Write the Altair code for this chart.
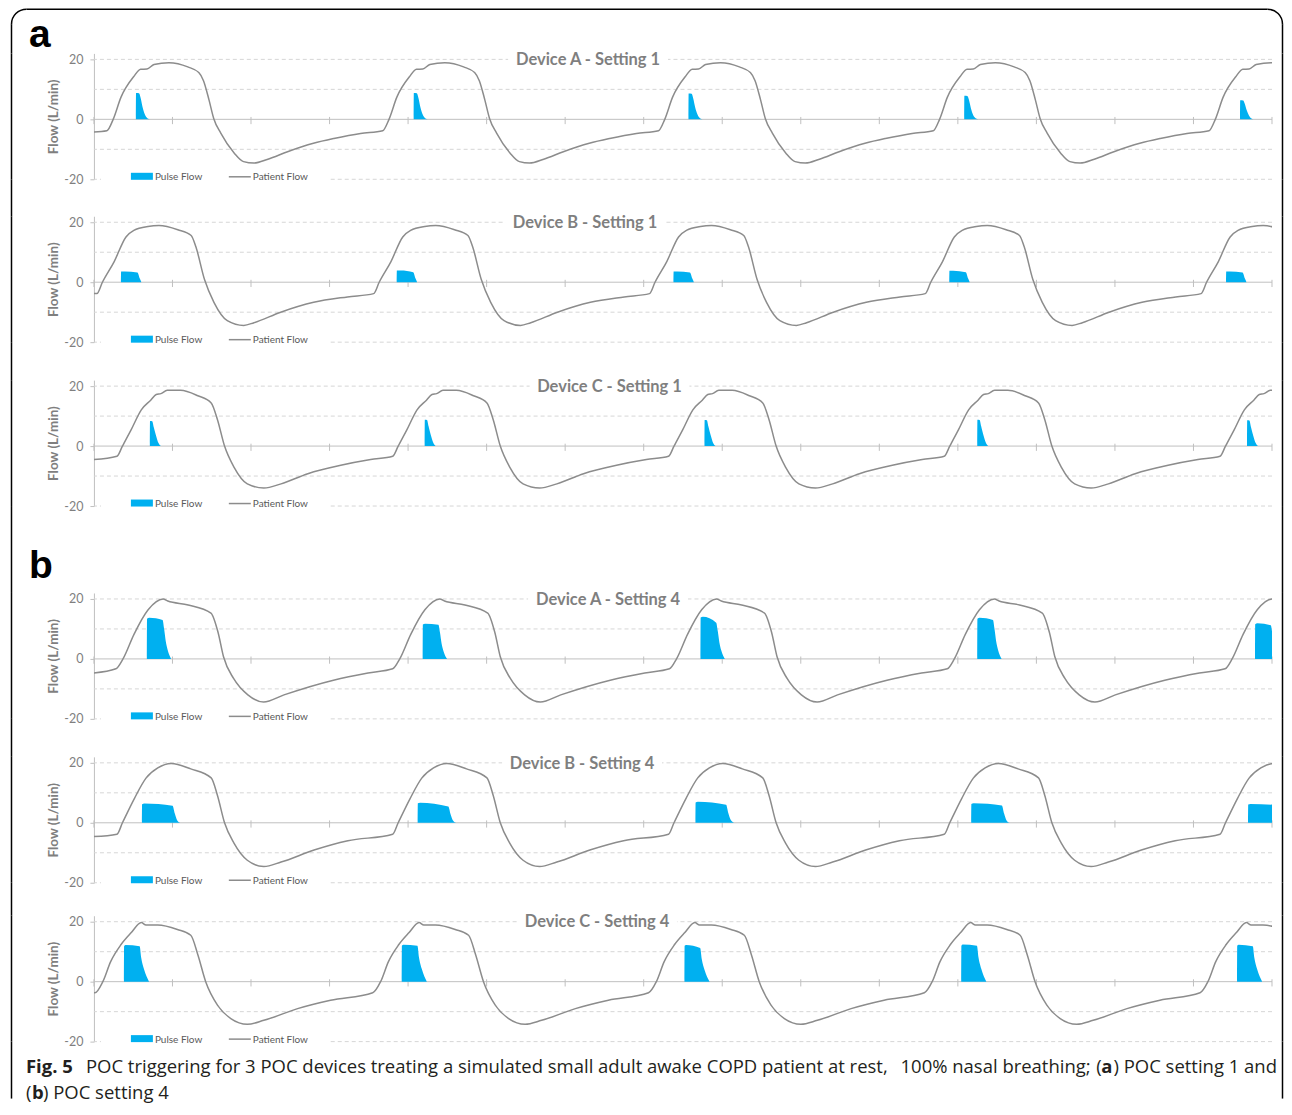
import altair as alt
import pandas as pd

# ---------------- data ----------------
TICKS_S = list(range(0, 16))          # x tick positions (s)
GRID_LEVELS = [-20, -10, 10, 20]      # dashed gridlines (L/min)

TITLES = ["Device A - Setting 1", "Device B - Setting 1", "Device C - Setting 1",
          "Device A - Setting 4", "Device B - Setting 4", "Device C - Setting 4"]

# Patient flow: value at t=0, breath onsets (s), and breath shape (s after onset, L/min)
A1_START = -4.2
A1_ON = [0.165, 3.677, 7.188, 10.687, 14.198]
A1_DT = [0.00, 0.08, 0.18, 0.34, 0.43, 0.51, 0.60, 0.79, 1.03, 1.17, 1.23, 1.30, 1.36, 1.45, 1.62, 1.74, 1.87, 2.05, 2.30, 2.63, 2.89, 3.23]
A1_V = [-3.8, 0.0, 7.4, 14.2, 16.7, 16.8, 18.3, 18.9, 17.5, 15.6, 12.9, 6.5, 0.3, -4.6, -11.2, -14.1, -14.6, -13.3, -10.8, -8.0, -6.4, -4.7]

A2_START = -3.8
A2_ON = [0.038, 3.562, 7.074, 10.585, 14.097]
A2_DT = [0.00, 0.07, 0.22, 0.37, 0.47, 0.65, 0.79, 1.03, 1.20, 1.26, 1.37, 1.49, 1.66, 1.87, 2.00, 2.34, 2.76, 3.19]
A2_V = [-3.8, 0.0, 6.9, 15.1, 17.3, 18.6, 18.9, 17.5, 15.6, 11.8, 0.9, -6.7, -12.8, -14.4, -13.5, -10.0, -6.7, -4.9]

A3_START = -4.5
A3_ON = [0.293, 3.804, 7.316, 10.827, 14.338]
A3_DT = [0.00, 0.07, 0.18, 0.31, 0.43, 0.50, 0.56, 0.64, 0.81, 1.03, 1.20, 1.28, 1.37, 1.49, 1.66, 1.87, 2.09, 2.43, 2.85, 3.23]
A3_V = [-3.4, 0.0, 5.4, 12.1, 15.3, 17.2, 17.5, 18.6, 18.6, 16.8, 14.4, 8.8, 0.0, -7.0, -12.6, -14.0, -12.6, -9.2, -6.4, -4.5]

B1_START = -4.7
B1_ON = [0.280, 3.804, 7.328, 10.865, 14.402]
B1_DT = [0.00, 0.09, 0.23, 0.41, 0.60, 0.66, 0.92, 1.21, 1.30, 1.37, 1.50, 1.68, 1.88, 2.14, 2.77, 3.21]
B1_V = [-3.3, 0.0, 8.2, 16.4, 20.0, 19.3, 18.0, 15.3, 8.9, 0.7, -6.6, -12.0, -14.4, -12.0, -7.1, -4.7]

B2_START = -4.6
B2_ON = [0.293, 3.804, 7.316, 10.827, 14.338]
B2_DT = [0.00, 0.07, 0.22, 0.37, 0.52, 0.69, 0.94, 1.20, 1.28, 1.37, 1.49, 1.66, 1.87, 2.09, 2.51, 2.94]
B2_V = [-3.8, 0.0, 8.0, 14.9, 18.3, 19.8, 18.0, 15.0, 9.1, 0.0, -6.8, -12.5, -14.6, -13.1, -9.1, -6.0]

B3_START = -3.7
B3_ON = [0.013, 3.550, 7.061, 10.573, 14.084]
B3_DT = [0.00, 0.10, 0.20, 0.33, 0.46, 0.59, 0.65, 0.80, 1.05, 1.22, 1.31, 1.41, 1.56, 1.73, 1.94, 2.15, 2.58, 3.00]
B3_V = [-3.7, 0.0, 6.7, 12.3, 16.3, 19.7, 18.9, 18.9, 17.4, 15.5, 9.0, 0.0, -7.8, -12.3, -14.2, -12.9, -9.0, -6.2]

# Pulse flow: pulse start times (s), time offsets within a pulse (s), values of each pulse (L/min)
A1_PT = [0.534, 4.071, 7.570, 11.081, 14.593]
A1_PDT = [0.0, 0.002, 0.04, 0.06, 0.085, 0.115, 0.15, 0.18]
A1_PV = [[0, 8.8, 8.7, 7.2, 4.1, 1.6, 0.3, 0],
         [0, 8.8, 8.7, 7.2, 4.1, 1.6, 0.3, 0],
         [0, 8.6, 8.5, 7.0, 4.0, 1.6, 0.3, 0],
         [0, 7.9, 7.8, 6.5, 3.7, 1.4, 0.3, 0],
         [0, 6.4, 6.3, 5.2, 3.0, 1.2, 0.2, 0]]

A2_PT = [0.344, 3.855, 7.379, 10.891, 14.415]
A2_PDT = [0.0, 0.002, 0.05, 0.21, 0.24, 0.26]
A2_PV = [[0, 3.6, 3.6, 3.2, 1.2, 0],
         [0, 3.9, 3.9, 3.3, 1.2, 0],
         [0, 3.6, 3.6, 3.2, 1.2, 0],
         [0, 3.8, 3.8, 3.3, 1.2, 0],
         [0, 3.6, 3.6, 3.2, 1.2, 0]]

A3_PT = [0.712, 4.211, 7.774, 11.247, 14.682]
A3_PDT = [0.0, 0.002, 0.03, 0.05, 0.08, 0.11, 0.14]
A3_PV = [[0, 8.4, 8.3, 6.3, 3.4, 1.0, 0],
         [0, 8.8, 8.7, 6.6, 3.5, 1.1, 0],
         [0, 8.7, 8.6, 6.5, 3.5, 1.0, 0],
         [0, 8.8, 8.7, 6.6, 3.5, 1.1, 0],
         [0, 8.6, 8.5, 6.4, 3.4, 1.0, 0]]

B1_PT = [0.674, 4.186, 7.723, 11.247, 14.784]
B1_PDT = [0.0, 0.002, 0.03, 0.20, 0.22, 0.24, 0.265, 0.31]
B1_PV = [[0, 13.4, 13.7, 13.0, 10.0, 6.0, 3.0, 0],
         [0, 11.5, 11.7, 11.4, 8.8, 5.2, 2.6, 0],
         [0, 13.8, 14.1, 12.1, 9.3, 5.6, 2.8, 0],
         [0, 13.4, 13.7, 13.0, 10.0, 6.0, 3.0, 0],
         [0, 11.6, 11.9, 11.2, 8.6, 5.2, 2.6, 0]]

B2_PT = [0.611, 4.122, 7.659, 11.170, 14.695]
B2_PDT = [0.0, 0.002, 0.03, 0.39, 0.42, 0.45, 0.49]
B2_PV = [[0, 6.2, 6.4, 5.7, 3.0, 0.8, 0],
         [0, 6.5, 6.7, 5.4, 2.8, 0.8, 0],
         [0, 6.8, 7.0, 6.0, 3.1, 0.9, 0],
         [0, 6.3, 6.5, 5.8, 3.0, 0.8, 0],
         [0, 6.1, 6.3, 5.8, 3.0, 0.8, 0]]

B3_PT = [0.382, 3.919, 7.519, 11.043, 14.555]
B3_PDT = [0.0, 0.002, 0.02, 0.20, 0.22, 0.255, 0.32]
B3_PV = [[0, 11.8, 12.2, 11.8, 8.0, 4.2, 0],
         [0, 12.0, 12.3, 12.0, 8.1, 4.3, 0],
         [0, 12.0, 12.2, 11.2, 7.6, 4.0, 0],
         [0, 12.0, 12.4, 12.0, 8.1, 4.3, 0],
         [0, 12.0, 12.3, 11.8, 8.0, 4.2, 0]]

CAPTION_1A = "POC triggering for 3 POC devices treating a simulated small adult awake COPD patient at rest,"
CAPTION_1B = "100% nasal breathing;"
CAPTION_1C = ") POC setting 1 and"
CAPTION_2B = ") POC setting 4"

# ---------------- styling / layout ----------------
W = 1179          # plot width
PH = 126          # plot height
BL, BR = -82.5, 1189.5   # figure frame x (relative to plot origin)
RAD = 15
GRAY_LINE = "#8c8c8c"
PULSE = "#00b0f0"
AX_GRAY = "#c0c0c0"
TXT_GRAY = "#7f7f7f"
FONT = "Lato"
CAP_FONT = "Open Sans"
CAP_SIZE = 18.5
ONE = pd.DataFrame({"k": [0]})

XS = alt.Scale(domain=[0, 15], nice=False, zero=False)
YS = alt.Scale(domain=[-20, 22], nice=False, zero=False)
YAX = alt.Axis(values=[-20, 0, 20], grid=False, title="Flow (L/min)",
               labelExpr="'' + datum.value",
               domainColor=AX_GRAY, tickColor=AX_GRAY, tickSize=4,
               labelFont=FONT, labelFontSize=12.5, labelColor=TXT_GRAY, labelPadding=7,
               titleFont=FONT, titleFontSize=13.5, titleFontWeight="bold",
               titleColor=TXT_GRAY, titlePadding=3)


def frame_sides(h, y0=0.0):
    left = alt.Chart(ONE).mark_rule(color="black", strokeWidth=1.5).encode(
        x=alt.value(BL), y=alt.value(y0), y2=alt.value(h))
    right = alt.Chart(ONE).mark_rule(color="black", strokeWidth=1.5).encode(
        x=alt.value(BR), y=alt.value(y0), y2=alt.value(h))
    return [left, right]


def spacer(h, label=None, ly=0):
    layers = frame_sides(h)
    if label:
        layers.append(alt.Chart(ONE).mark_text(
            text=label, font="Liberation Sans", fontSize=39, fontWeight="bold",
            align="left", baseline="alphabetic", color="black").encode(
            x=alt.value(-65), y=alt.value(ly)))
    return alt.layer(*layers).properties(width=W, height=h)


def header(h):
    top = alt.Chart(ONE).mark_rule(color="black", strokeWidth=1.5).encode(
        x=alt.value(BL + RAD), x2=alt.value(BR - RAD), y=alt.value(0.75))
    arc_l = alt.Chart(ONE).mark_arc(theta=4.712389, theta2=6.283185, radius=RAD + 0.75,
                                    radius2=RAD - 0.75, color="black").encode(
        x=alt.value(BL + RAD), y=alt.value(0.75 + RAD))
    arc_r = alt.Chart(ONE).mark_arc(theta=0.0, theta2=1.570796, radius=RAD + 0.75,
                                    radius2=RAD - 0.75, color="black").encode(
        x=alt.value(BR - RAD), y=alt.value(0.75 + RAD))
    lab = alt.Chart(ONE).mark_text(
        text="a", font="Liberation Sans", fontSize=39, fontWeight="bold",
        align="left", baseline="alphabetic", color="black").encode(
        x=alt.value(-65), y=alt.value(38.5))
    layers = [top, arc_l, arc_r, lab] + frame_sides(h, 0.75 + RAD)
    return alt.layer(*layers).properties(width=W, height=h)


def panel(title, tx, ty, start_v, onsets, dts, vals, p_starts, p_dts, p_vals):
    rows = [{"t": 0.0, "v": start_v}]
    for o in onsets:
        for dt, v in zip(dts, vals):
            rows.append({"t": round(o + dt, 4), "v": v})
    pat = pd.DataFrame(rows)
    pat["i"] = range(len(pat))

    prow = []
    for k, (s, pv) in enumerate(zip(p_starts, p_vals)):
        for dt, v in zip(p_dts, pv):
            prow.append({"t": round(s + dt, 4), "v": v, "p": k, "z": 0})
    pul = pd.DataFrame(prow)

    X = alt.X("t:Q", scale=XS, axis=None)

    grid = alt.Chart(pd.DataFrame({"lvl": GRID_LEVELS})).mark_rule(
        color="#d6d6d6", strokeDash=[4, 3], strokeWidth=1).encode(
        y=alt.Y("lvl:Q", scale=YS, axis=YAX))
    leg_box = alt.Chart(ONE).mark_rect(color="white").encode(
        x=alt.value(7), x2=alt.value(235), y=alt.value(116), y2=alt.value(130))
    title_box = alt.Chart(ONE).mark_rect(color="white").encode(
        x=alt.value(tx - 80), x2=alt.value(tx + 80), y=alt.value(0), y2=alt.value(13))
    zero = alt.Chart(pd.DataFrame({"lvl": [0]})).mark_rule(
        color=AX_GRAY, strokeWidth=1).encode(y=alt.Y("lvl:Q", scale=YS, axis=YAX))
    xt = alt.Chart(pd.DataFrame({"t": TICKS_S, "a": [0.8] * len(TICKS_S),
                                 "b": [-1.6] * len(TICKS_S)})).mark_rule(
        color=AX_GRAY, strokeWidth=1).encode(
        x=X, y=alt.Y("a:Q", scale=YS, axis=YAX), y2="b:Q")
    area = alt.Chart(pul).mark_area(color=PULSE, opacity=1, clip=True,
                                    interpolate="monotone").encode(
        x=X, y=alt.Y("v:Q", scale=YS, axis=YAX, stack=None), y2="z:Q",
        detail="p:N")
    line = alt.Chart(pat).mark_line(color=GRAY_LINE, strokeWidth=1.5, clip=True,
                                    interpolate="monotone").encode(
        x=X, y=alt.Y("v:Q", scale=YS, axis=YAX), order="i:Q")
    leg_p = alt.Chart(ONE).mark_rect(color=PULSE).encode(
        x=alt.value(37), x2=alt.value(59), y=alt.value(119.5), y2=alt.value(126.5))
    leg_l = alt.Chart(ONE).mark_rule(color=GRAY_LINE, strokeWidth=1.5).encode(
        x=alt.value(135), x2=alt.value(157), y=alt.value(123.5))
    leg_t1 = alt.Chart(ONE).mark_text(text="Pulse Flow", font=FONT, fontSize=10,
                                      color="#595959", align="left",
                                      baseline="alphabetic").encode(
        x=alt.value(61), y=alt.value(127))
    leg_t2 = alt.Chart(ONE).mark_text(text="Patient Flow", font=FONT, fontSize=10,
                                      color="#595959", align="left",
                                      baseline="alphabetic").encode(
        x=alt.value(159), y=alt.value(127))
    ttl = alt.Chart(ONE).mark_text(text=title, font=FONT, fontSize=16.5, fontWeight="bold",
                                   color=TXT_GRAY, align="center",
                                   baseline="middle").encode(
        x=alt.value(tx), y=alt.value(ty))
    layers = [grid, leg_box, title_box, zero, xt, area, line,
              leg_p, leg_l, leg_t1, leg_t2, ttl] + frame_sides(PH)
    return alt.layer(*layers).properties(width=W, height=PH)


def caption(h):
    def txt(s, x, y, bold=False, align="left"):
        return alt.Chart(ONE).mark_text(
            text=s, font=CAP_FONT, fontSize=CAP_SIZE,
            fontWeight="bold" if bold else "normal", color="#231f20",
            align=align, baseline="alphabetic").encode(x=alt.value(x), y=alt.value(y))
    y1, y2 = 31.5, 57
    layers = [
        txt("Fig. 5", -68, y1, bold=True),
        txt(CAPTION_1A, -8, y1),
        txt(CAPTION_1B, 997.5, y1, align="right"),
        txt("(", 1008.5, y1, align="right"),
        txt("a", 1019.3, y1, bold=True, align="right"),
        txt(CAPTION_1C, 1184, y1, align="right"),
        txt("(", -68, y2),
        txt("b", -62, y2, bold=True),
        txt(CAPTION_2B, -51, y2),
    ] + frame_sides(h)
    return alt.layer(*layers).properties(width=W, height=h)


charts = [
    header(45),
    panel(TITLES[0], 494.5, 7, A1_START, A1_ON, A1_DT, A1_V, A1_PT, A1_PDT, A1_PV),
    spacer(37),
    panel(TITLES[1], 491.5, 6.5, A2_START, A2_ON, A2_DT, A2_V, A2_PT, A2_PDT, A2_PV),
    spacer(38),
    panel(TITLES[2], 516, 7, A3_START, A3_ON, A3_DT, A3_V, A3_PT, A3_PDT, A3_PV),
    spacer(87, label="b", ly=72),
    panel(TITLES[3], 514.5, 7, B1_START, B1_ON, B1_DT, B1_V, B1_PT, B1_PDT, B1_PV),
    spacer(38),
    panel(TITLES[4], 488.5, 7, B2_START, B2_ON, B2_DT, B2_V, B2_PT, B2_PDT, B2_PV),
    spacer(33),
    panel(TITLES[5], 503.5, 6.5, B3_START, B3_ON, B3_DT, B3_V, B3_PT, B3_PDT, B3_PV),
    caption(57),
]

chart = alt.vconcat(*charts, spacing=0, bounds="flush").properties(
    padding={"left": 2, "top": 0, "right": 0, "bottom": 0}
).configure_view(stroke=None)

chart.save("out.html", embed_options={"renderer": "svg", "actions": False})
